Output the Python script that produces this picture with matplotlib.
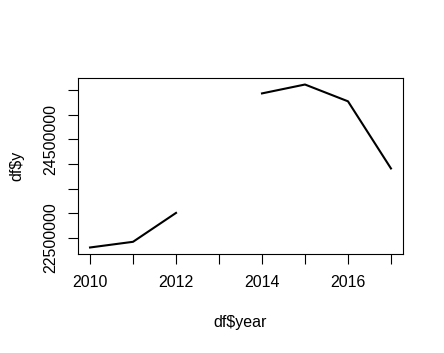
import numpy as np
import matplotlib
matplotlib.use("Agg")
import matplotlib.pyplot as plt

plt.rcParams["font.family"] = ["Liberation Sans", "DejaVu Sans"]

# data (2013 missing)
years = [2010, 2011, 2012, 2013, 2014, 2015, 2016, 2017]
y = [22310000, 22425000, 23010000, np.nan, 25430000, 25610000, 25270000, 23910000]

# ticks as R draws them; labels R dropped for overlap are blank
x_ticks = [2010, 2011, 2012, 2013, 2014, 2015, 2016, 2017]
x_labels = ["2010", "", "2012", "", "2014", "", "2016", ""]
y_ticks = [22500000, 23000000, 23500000, 24000000, 24500000, 25000000, 25500000]
y_labels = ["22500000", "", "", "", "24500000", "", ""]

fig = plt.figure(figsize=(4.44, 3.53), dpi=100)
ax = fig.add_axes([78 / 444, 99 / 353, 325 / 444, 176 / 353])

ax.plot(years, y, color="black", linewidth=1.5)

# R style 4% axis padding
ymin, ymax = np.nanmin(y), np.nanmax(y)
pad = 0.04 * (ymax - ymin)
ax.set_ylim(ymin - pad, ymax + pad)
xpad = 0.04 * (years[-1] - years[0])
ax.set_xlim(years[0] - xpad, years[-1] + xpad)

ax.set_xticks(x_ticks)
ax.set_xticklabels(x_labels, fontsize=11.5)
ax.set_yticks(y_ticks)
ax.set_yticklabels(y_labels, fontsize=11.5, rotation=90, va="center")

ax.tick_params(axis="both", direction="out", length=7, width=0.8, color="black")
ax.tick_params(axis="x", pad=8)
ax.tick_params(axis="y", pad=7)
for s in ax.spines.values():
    s.set_linewidth(0.8)
    s.set_color("black")

ax.set_xlabel("df$year", fontsize=11.5, labelpad=18)
ax.set_ylabel("df$y", fontsize=11.5, labelpad=14)

fig.savefig("out.png", dpi=100)
